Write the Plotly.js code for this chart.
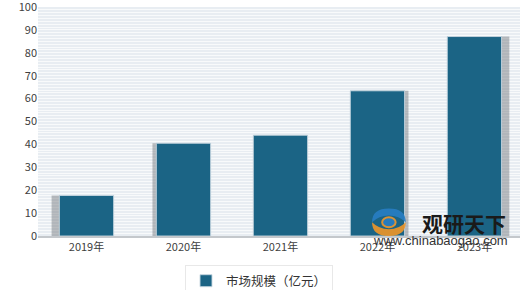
<!DOCTYPE html>
<html>
<head>
<meta charset="utf-8">
<script src="https://cdn.plot.ly/plotly-3.0.1.min.js"></script>
<style>html,body{margin:0;padding:0;background:#fff;}#chart{width:520px;height:290px;}</style>
</head>
<body>
<div id="chart"></div>
<script>
var categories = ['2019年', '2020年', '2021年', '2022年', '2023年'];
var marketSize = [17.7, 40.5, 44.0, 63.4, 87.1];
var seriesName = '市场规模（亿元）';
var yTicks = [0, 10, 20, 30, 40, 50, 60, 70, 80, 90, 100];

var font = "'Noto Sans CJK SC', 'Noto Sans', sans-serif";

var shadow = {
  type: 'bar',
  x: categories,
  y: marketSize,
  width: 0.56,
  offset: categories.map(function (c, i) { return -0.28 + (i - 2) * 0.04; }),
  marker: { color: 'rgba(110,115,120,0.45)', line: { width: 0 } },
  showlegend: false,
  hoverinfo: 'skip'
};

var bars = {
  type: 'bar',
  name: seriesName,
  x: categories,
  y: marketSize,
  width: 0.56,
  marker: { color: '#1b6485', line: { color: 'rgba(200,215,225,0.9)', width: 1 } }
};

// logo geometry (paper coordinates)
var cx = 0.728, cy = 0.06, rx = 0.035, ry = 0.06;
function P(x, y) { return x.toFixed(4) + ',' + y.toFixed(4); }
var blueArc = 'M' + P(cx - rx, cy) + ' Q' + P(cx - rx, cy + ry) + ' ' + P(cx, cy + ry) +
  ' Q' + P(cx + rx, cy + ry) + ' ' + P(cx + rx, cy) +
  ' Q' + P(cx + rx * 0.6, cy + ry * 0.5) + ' ' + P(cx, cy + ry * 0.5) +
  ' Q' + P(cx - rx * 0.6, cy + ry * 0.5) + ' ' + P(cx - rx, cy) + ' Z';
var orangeArc = 'M' + P(cx - rx, cy) + ' Q' + P(cx - rx, cy - ry) + ' ' + P(cx, cy - ry) +
  ' Q' + P(cx + rx, cy - ry) + ' ' + P(cx + rx, cy) +
  ' Q' + P(cx + rx * 0.6, cy - ry * 0.5) + ' ' + P(cx, cy - ry * 0.5) +
  ' Q' + P(cx - rx * 0.6, cy - ry * 0.5) + ' ' + P(cx - rx, cy) + ' Z';

var layout = {
  width: 520,
  height: 290,
  margin: { l: 38, r: 0, t: 7, b: 54, autoexpand: false },
  paper_bgcolor: '#ffffff',
  plot_bgcolor: '#e8edf2',
  barmode: 'overlay',
  font: { family: font, size: 11, color: '#404040' },
  showlegend: true,
  legend: {
    x: 0.305, y: -0.127, xanchor: 'left', yanchor: 'top',
    orientation: 'h',
    bgcolor: '#ffffff', bordercolor: '#e8e8e8', borderwidth: 1,
    font: { family: font, size: 12.5, color: '#333333' },
    itemwidth: 30
  },
  xaxis: {
    type: 'category',
    range: [-0.5, 4.47],
    showgrid: false,
    showline: true, linecolor: '#c4c8cc', linewidth: 2,
    ticks: '',
    tickfont: { family: font, size: 11, color: '#404040' },
    zeroline: false
  },
  yaxis: {
    range: [0, 100],
    tickvals: yTicks,
    showgrid: false,
    zeroline: false,
    showline: false,
    ticks: '',
    ticklen: 0,
    ticklabeloverflow: 'allow',
    tickfont: { family: font, size: 11, color: '#404040' },
    minor: { dtick: 1.25, showgrid: true, gridcolor: 'rgba(250,252,253,0.85)', gridwidth: 1 }
  },
  shapes: [
    { type: 'path', xref: 'paper', yref: 'paper', path: blueArc,
      fillcolor: 'rgba(40,125,195,0.9)', line: { width: 0 } },
    { type: 'path', xref: 'paper', yref: 'paper', path: orangeArc,
      fillcolor: 'rgba(240,150,40,0.9)', line: { width: 0 } },
    { type: 'circle', xref: 'paper', yref: 'paper', x0: cx - 0.014, x1: cx + 0.014, y0: cy - 0.022, y1: cy + 0.022,
      fillcolor: 'rgba(40,125,195,0.9)', line: { color: 'rgba(240,150,40,0.9)', width: 2 } }
  ],
  annotations: [
    { xref: 'paper', yref: 'paper', x: 0.975, y: 0.056, xanchor: 'right', yanchor: 'middle',
      text: '<b>观研天下</b>', showarrow: false,
      font: { family: font, size: 21, color: '#1a1a1a' } },
    { xref: 'paper', yref: 'paper', x: 0.98, y: -0.021, xanchor: 'right', yanchor: 'middle',
      text: 'www.chinabaogao.com', showarrow: false,
      font: { family: "'Liberation Sans', Arial, sans-serif", size: 13, color: '#333333' } }
  ]
};

Plotly.newPlot('chart', [shadow, bars], layout, { displayModeBar: false, staticPlot: true });
</script>
</body>
</html>
